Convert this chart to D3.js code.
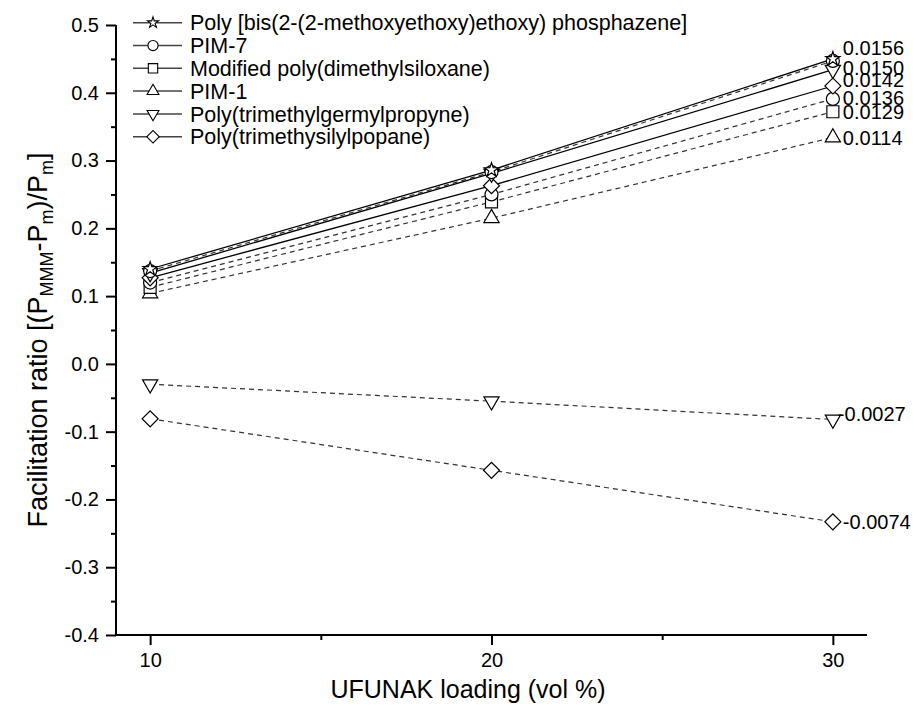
<!DOCTYPE html>
<html><head><meta charset="utf-8">
<script src="https://cdn.jsdelivr.net/npm/d3@7"></script>
<style>
body{margin:0;background:#fff;}
svg{display:block;font-family:"Liberation Sans",Arial,sans-serif;}
</style></head>
<body><svg id="chart" width="913" height="708"></svg>
<script>
// ---- data ----
const loadings = [10, 20, 30];
const xTickValues = [10, 20, 30];
const yTickValues = [0.5, 0.4, 0.3, 0.2, 0.1, 0.0, -0.1, -0.2, -0.3, -0.4];

const phosphazeneValues = [0.140, 0.286, 0.450];
const phosphazeneBValues = [0.137, 0.283, 0.447];
const series0150Values = [0.134, 0.281, 0.434];
const series0142Values = [0.127, 0.263, 0.410];
const pim7Values = [0.120, 0.250, 0.391];
const pdmsValues = [0.113, 0.239, 0.372];
const pim1Values = [0.104, 0.215, 0.334];
const germylValues = [-0.030, -0.055, -0.082];
const silylValues = [-0.081, -0.157, -0.233];
const slopeLabels = ["0.0156", null, "0.0150", "0.0142", "0.0136", "0.0129", "0.0114", "-0.0027", "-0.0074"];

const legendNames = [
  "Poly [bis(2-(2-methoxyethoxy)ethoxy) phosphazene]",
  "PIM-7",
  "Modified poly(dimethylsiloxane)",
  "PIM-1",
  "Poly(trimethylgermylpropyne)",
  "Poly(trimethysilylpopane)"
];

// ---- styles (not data) ----
const allValues = [phosphazeneValues, phosphazeneBValues, series0150Values, series0142Values,
  pim7Values, pdmsValues, pim1Values, germylValues, silylValues];
const markerKinds = ["star", "circle", "tridown", "diamond", "circle", "square", "triangle", "tridown", "diamond"];
const dashed = [false, true, false, false, true, true, true, true, true];
const labelNudge = [[10, -11], null, [10, -2], [10, -6], [10, -1], [10, 0], [10, 0], [5, -5], [10, 0]];
const legendKinds = ["star", "circle", "square", "triangle", "tridown", "diamond"];

const svg = d3.select("#chart");
const x = d3.scaleLinear().domain([9, 31]).range([116, 867]);
const y = d3.scaleLinear().domain([-0.4, 0.5]).range([635, 25]);

function symPath(kind, scale) {
  const s = scale || 1;
  switch (kind) {
    case "star": return d3.symbol(d3.symbolStar, 62 * s * s)();
    case "circle": return d3.symbol(d3.symbolCircle, 133 * s * s)();
    case "square": return d3.symbol(d3.symbolSquare, 144 * s * s)();
    case "triangle": return d3.symbol(d3.symbolTriangle, 100 * s * s)();
    case "tridown": return d3.symbol(d3.symbolTriangle, 100 * s * s)();
    case "diamond": return d3.symbol(d3.symbolSquare, 128 * s * s)();
  }
}
function symRot(kind) {
  if (kind === "tridown") return " rotate(180)";
  if (kind === "diamond") return " rotate(45)";
  return "";
}

// ---- axes ----
const fmt1 = d => d3.format(".1f")(d).replace("\u2212", "-");
const yAxis = d3.axisLeft(y).tickValues(yTickValues).tickFormat(fmt1).tickSize(10).tickPadding(7);
const yMinor = d3.axisLeft(y).tickValues(d3.range(-0.35, 0.5, 0.1)).tickFormat("").tickSize(5);
const xAxis = d3.axisBottom(x).tickValues(xTickValues).tickFormat(d3.format("d")).tickSize(10).tickPadding(8);
const xMinor = d3.axisBottom(x).tickValues([15, 25]).tickFormat("").tickSize(5);

function styleAxis(g) {
  g.select(".domain").attr("stroke", "#000").attr("stroke-width", 2);
  g.selectAll(".tick line").attr("stroke", "#000").attr("stroke-width", 2);
  g.selectAll(".tick text").attr("font-size", 20).attr("fill", "#000")
    .attr("font-family", '"Liberation Sans",Arial,sans-serif');
}
const gy = svg.append("g").attr("transform", `translate(${x(9)},0)`).call(yAxis).call(styleAxis);
gy.select(".domain").attr("d", `M0,${y(0.5)}V${y(-0.4)}`);
svg.append("g").attr("transform", `translate(${x(9)},0)`).call(yMinor).call(styleAxis)
  .select(".domain").remove();
const gx = svg.append("g").attr("transform", `translate(0,${y(-0.4)})`).call(xAxis).call(styleAxis);
gx.select(".domain").attr("d", `M${x(9)},0H${x(31)}`);
svg.append("g").attr("transform", `translate(0,${y(-0.4)})`).call(xMinor).call(styleAxis)
  .select(".domain").remove();

// axis titles
svg.append("text").attr("x", 468).attr("y", 698).attr("text-anchor", "middle")
  .attr("font-size", 25).text("UFUNAK loading (vol %)");
const yt = svg.append("text").attr("transform", `translate(47,340) rotate(-90)`)
  .attr("text-anchor", "middle").attr("font-size", 27);
yt.append("tspan").text("Facilitation ratio [(P");
yt.append("tspan").attr("font-size", 18).attr("dy", 6).text("MMM");
yt.append("tspan").attr("dy", -6).text("-P");
yt.append("tspan").attr("font-size", 18).attr("dy", 6).text("m");
yt.append("tspan").attr("dy", -6).text(")/P");
yt.append("tspan").attr("font-size", 18).attr("dy", 6).text("m");
yt.append("tspan").attr("dy", -6).text("]");

// ---- lines ----
const line = d3.line().x((d, i) => x(loadings[i])).y(d => y(d));
allValues.forEach((vals, si) => {
  svg.append("path").attr("d", line(vals)).attr("fill", "none")
    .attr("stroke", dashed[si] ? "#333" : "#000")
    .attr("stroke-width", dashed[si] ? 1.2 : 1.3)
    .attr("stroke-dasharray", dashed[si] ? "5,4" : null);
});

// ---- markers ----
for (let si = allValues.length - 1; si >= 0; si--) {
  allValues[si].forEach((v, i) => {
    svg.append("path").attr("d", symPath(markerKinds[si]))
      .attr("transform", `translate(${x(loadings[i])},${y(v)})` + symRot(markerKinds[si]))
      .attr("fill", "#fff").attr("stroke", "#000").attr("stroke-width", 1.2);
  });
}

// ---- slope labels ----
allValues.forEach((vals, si) => {
  if (!slopeLabels[si]) return;
  const nd = labelNudge[si];
  svg.append("text").attr("x", x(loadings[2]) + nd[0]).attr("y", y(vals[2]) + nd[1])
    .attr("dy", "0.35em").attr("font-size", 20).text(slopeLabels[si]);
});

// ---- legend ----
const lg = svg.append("g");
legendNames.forEach((name, i) => {
  const cy = 22.7 + i * 22.8;
  lg.append("line").attr("x1", 133).attr("x2", 182).attr("y1", cy).attr("y2", cy)
    .attr("stroke", "#444").attr("stroke-width", 1.5);
  lg.append("path").attr("d", symPath(legendKinds[i], 0.78))
    .attr("transform", `translate(153,${cy})` + symRot(legendKinds[i]))
    .attr("fill", "#fff").attr("stroke", "#000").attr("stroke-width", 1.1);
  lg.append("text").attr("x", 190).attr("y", cy).attr("dy", "0.36em")
    .attr("font-size", 21.5).text(name);
});
</script></body></html>
